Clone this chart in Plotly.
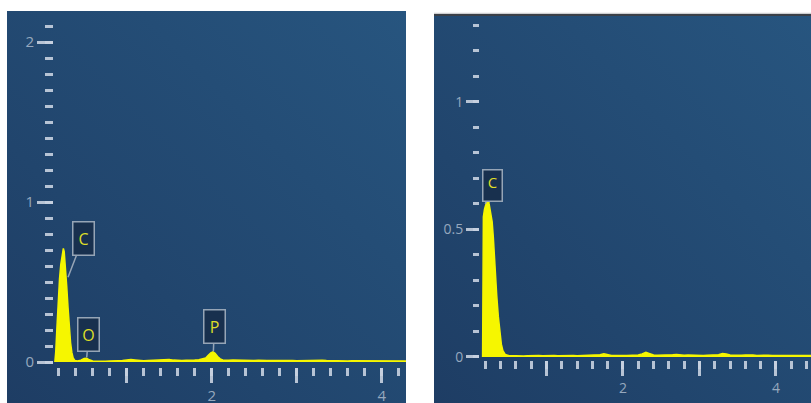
import base64
import plotly.graph_objects as go

# ---- spectrum 1 (left panel): energy in keV, intensity ----
left_energy = [
    0.155, 0.165, 0.18, 0.195, 0.21, 0.225, 0.24, 0.255, 0.265, 0.28, 0.295, 0.31,
    0.325, 0.34, 0.355, 0.37, 0.39, 0.42, 0.46, 0.50, 0.53, 0.56, 0.60,
    0.65, 0.70, 0.75, 0.80, 0.85, 0.90, 0.95, 1.00, 1.05, 1.10, 1.15, 1.20,
    1.25, 1.30, 1.35, 1.40, 1.45, 1.50, 1.55, 1.60, 1.65, 1.70, 1.75, 1.80,
    1.85, 1.90, 1.93, 1.96, 1.99, 2.015, 2.04, 2.07, 2.10, 2.13, 2.15, 2.20,
    2.25, 2.30, 2.35, 2.40, 2.45, 2.50, 2.55, 2.60, 2.65, 2.70, 2.75, 2.80,
    2.85, 2.90, 2.95, 3.00, 3.05, 3.10, 3.15, 3.20, 3.25, 3.30, 3.35, 3.40,
    3.45, 3.50, 3.55, 3.60, 3.65, 3.70, 3.75, 3.80, 3.85, 3.90, 3.95, 4.00,
    4.05, 4.10, 4.15, 4.20, 4.25, 4.30,
]
left_counts = [
    0.0, 0.06, 0.22, 0.39, 0.52, 0.61, 0.67, 0.71, 0.69, 0.60, 0.47, 0.34,
    0.22, 0.12, 0.06, 0.025, 0.010, 0.006, 0.012, 0.022, 0.024, 0.014, 0.007,
    0.005, 0.006, 0.005, 0.007, 0.006, 0.008, 0.009, 0.012, 0.016, 0.013, 0.009, 0.008,
    0.009, 0.010, 0.009, 0.011, 0.014, 0.016, 0.012, 0.010, 0.009, 0.011, 0.010, 0.012,
    0.014, 0.020, 0.025, 0.042, 0.058, 0.064, 0.055, 0.035, 0.020, 0.013, 0.012, 0.011,
    0.013, 0.012, 0.010, 0.011, 0.009, 0.010, 0.011, 0.012, 0.010, 0.009, 0.010, 0.011,
    0.010, 0.009, 0.010, 0.008, 0.009, 0.010, 0.008, 0.009, 0.010, 0.011, 0.009, 0.008,
    0.009, 0.008, 0.009, 0.007, 0.008, 0.008, 0.007, 0.008, 0.007, 0.008, 0.007, 0.008,
    0.007, 0.008, 0.007, 0.007, 0.008, 0.007,
]

# ---- spectrum 2 (right panel) ----
right_energy = [
    0.165, 0.17, 0.175, 0.19, 0.21, 0.23, 0.24, 0.25, 0.27, 0.29, 0.305, 0.32,
    0.335, 0.35, 0.37, 0.39, 0.41, 0.43, 0.46, 0.50,
    0.55, 0.60, 0.65, 0.70, 0.75, 0.80, 0.85, 0.90, 0.95, 1.00, 1.05, 1.10,
    1.15, 1.20, 1.25, 1.30, 1.35, 1.40, 1.45, 1.50, 1.55, 1.60, 1.65, 1.70,
    1.75, 1.80, 1.85, 1.90, 1.95, 2.00, 2.05, 2.10, 2.15, 2.20, 2.25, 2.30,
    2.35, 2.40, 2.45, 2.50, 2.55, 2.60, 2.65, 2.70, 2.75, 2.80, 2.85, 2.90,
    2.95, 3.00, 3.05, 3.10, 3.15, 3.20, 3.25, 3.30, 3.35, 3.40, 3.45, 3.50,
    3.55, 3.60, 3.65, 3.70, 3.75, 3.80, 3.85, 3.90, 3.95, 4.00, 4.05, 4.10,
    4.15, 4.20, 4.25, 4.30, 4.35, 4.40, 4.45, 4.50,
]
right_counts = [
    0.0, 0.45, 0.55, 0.58, 0.60, 0.61, 0.63, 0.60, 0.57, 0.53, 0.47, 0.38,
    0.30, 0.24, 0.16, 0.09, 0.05, 0.025, 0.010, 0.006,
    0.005, 0.004, 0.005, 0.004, 0.005, 0.006, 0.005, 0.006, 0.005, 0.006, 0.005, 0.006,
    0.005, 0.006, 0.005, 0.006, 0.006, 0.005, 0.006, 0.005, 0.006, 0.006, 0.007, 0.009,
    0.012, 0.008, 0.006, 0.006, 0.007, 0.006, 0.006, 0.007, 0.007, 0.008, 0.012, 0.018,
    0.013, 0.008, 0.007, 0.007, 0.008, 0.007, 0.009, 0.010, 0.008, 0.007, 0.008, 0.007,
    0.008, 0.007, 0.006, 0.007, 0.008, 0.007, 0.009, 0.013, 0.012, 0.008, 0.007, 0.006,
    0.007, 0.008, 0.009, 0.008, 0.006, 0.007, 0.006, 0.007, 0.006, 0.007, 0.006, 0.006,
    0.007, 0.006, 0.006, 0.007, 0.006, 0.006, 0.007, 0.006,
]

# element markers: (label, energy, intensity at the tail tip)
left_peaks = [("C", 0.31, 0.53), ("O", 0.53, 0.03), ("P", 2.02, 0.068)]
right_peaks = [("C", 0.20, 0.60)]

x_tickvals = [1, 2, 3, 4]
x_ticktext = ["", "2", "", "4"]
left_y_tickvals = [0, 1, 2]
left_y_ticktext = ["0", "1", "2"]
right_y_tickvals = [0, 0.5, 1]
right_y_ticktext = ["0", "0.5", "1"]

W, H = 811, 403
SPEC = "rgb(246,246,0)"
TICK = "rgba(200,210,224,0.9)"
LABEL = "rgb(150,168,190)"
FONT = "Open Sans, Noto Sans, sans-serif"


def gradient_uri():
    svg = (
        '<svg xmlns="http://www.w3.org/2000/svg" width="400" height="400" '
        'preserveAspectRatio="none"><defs><linearGradient id="g" x1="0" y1="1" '
        'x2="1" y2="0"><stop offset="0" stop-color="#1e3d64"/>'
        '<stop offset="1" stop-color="#27557f"/></linearGradient></defs>'
        '<rect width="400" height="400" fill="url(#g)"/></svg>'
    )
    return "data:image/svg+xml;base64," + base64.b64encode(svg.encode()).decode()


fig = go.Figure()
fig.add_trace(go.Scatter(x=left_energy, y=left_counts, mode="lines", fill="tozeroy",
                         line=dict(color=SPEC, width=1.5), fillcolor=SPEC,
                         xaxis="x", yaxis="y", hoverinfo="skip"))
fig.add_trace(go.Scatter(x=right_energy, y=right_counts, mode="lines", fill="tozeroy",
                         line=dict(color=SPEC, width=1.5), fillcolor=SPEC,
                         xaxis="x2", yaxis="y2", hoverinfo="skip"))


def xaxis_style(domain, rng, anchor, size):
    return dict(domain=domain, range=rng, anchor=anchor, showgrid=False, zeroline=False,
                showline=False, automargin=False, ticks="outside", tickmode="array",
                tickvals=x_tickvals, ticktext=x_ticktext, ticklen=15, tickwidth=2.5,
                tickcolor=TICK, tickfont=dict(family=FONT, size=size, color=LABEL),
                minor=dict(dtick=0.2, tick0=0, ticks="outside", ticklen=8,
                           tickwidth=2.5, tickcolor=TICK, showgrid=False),
                fixedrange=True)


def yaxis_style(domain, rng, anchor, vals, text, majlen, minlen, size):
    return dict(domain=domain, range=rng, anchor=anchor, showgrid=False, zeroline=False,
                showline=False, automargin=False, ticks="outside", tickmode="array",
                tickvals=vals, ticktext=text, ticklen=majlen, tickwidth=3,
                tickcolor=TICK, tickfont=dict(family=FONT, size=size, color=LABEL),
                minor=dict(dtick=0.1, tick0=0, ticks="outside", ticklen=minlen,
                           tickwidth=3, tickcolor=TICK, showgrid=False),
                fixedrange=True)


fig.update_layout(
    width=W, height=H, margin=dict(l=0, r=0, t=0, b=0, autoexpand=False),
    paper_bgcolor="white", plot_bgcolor="rgba(0,0,0,0)", showlegend=False,
    xaxis=xaxis_style([54 / W, 406 / W], [0.145, 4.286], "y", 15),
    yaxis=yaxis_style([36 / H, 392 / H], [-0.031, 2.194], "x",
                      left_y_tickvals, left_y_ticktext, 16, 8, 15),
    xaxis2=xaxis_style([480 / W, 1.0], [0.131, 4.458], "y2", 14),
    yaxis2=yaxis_style([43 / H, 387 / H], [-0.012, 1.337], "x2",
                       right_y_tickvals, right_y_ticktext, 13, 6, 14),
)

# panel backgrounds
bg = gradient_uri()
fig.add_layout_image(dict(source=bg, xref="paper", yref="paper", x=7 / W, y=1 - 11 / H,
                          sizex=(406 - 7) / W, sizey=(403 - 11) / H, xanchor="left",
                          yanchor="top", sizing="stretch", layer="below"))
fig.add_layout_image(dict(source=bg, xref="paper", yref="paper", x=434 / W, y=1 - 16 / H,
                          sizex=(W - 434) / W, sizey=(403 - 16) / H, xanchor="left",
                          yanchor="top", sizing="stretch", layer="below"))
# window edge above the right panel
fig.add_shape(type="rect", xref="paper", yref="paper", x0=434 / W, x1=1,
              y0=1 - 14 / H, y1=1 - 12.7 / H, fillcolor="#cfd0d2", line_width=0)
fig.add_shape(type="rect", xref="paper", yref="paper", x0=434 / W, x1=1,
              y0=1 - 16 / H, y1=1 - 14 / H, fillcolor="#3b4048", line_width=0)

# element callouts
BOX = dict(bgcolor="rgb(24,48,78)", bordercolor="rgb(150,165,182)", borderwidth=1.5,
           showarrow=True, arrowhead=0, arrowwidth=1.5, arrowcolor="rgb(150,165,182)")
left_offsets = {"C": (15, -39), "O": (2, -23), "P": (1, -25)}
for name, ex, ey in left_peaks:
    ax, ay = left_offsets[name]
    fig.add_annotation(x=ex, y=ey, xref="x", yref="y", text=name, ax=ax, ay=ay,
                       width=18, height=30, borderpad=1,
                       font=dict(family=FONT, size=16, color="rgb(222,222,40)"), **BOX)
for name, ex, ey in right_peaks:
    fig.add_annotation(x=ex, y=ey, xref="x2", yref="y2", text=name, ax=7, ay=-18,
                       width=16, height=28, borderpad=1, valign="top",
                       font=dict(family=FONT, size=15, color="rgb(222,222,40)"), **BOX)

fig.write_html("out.html")
